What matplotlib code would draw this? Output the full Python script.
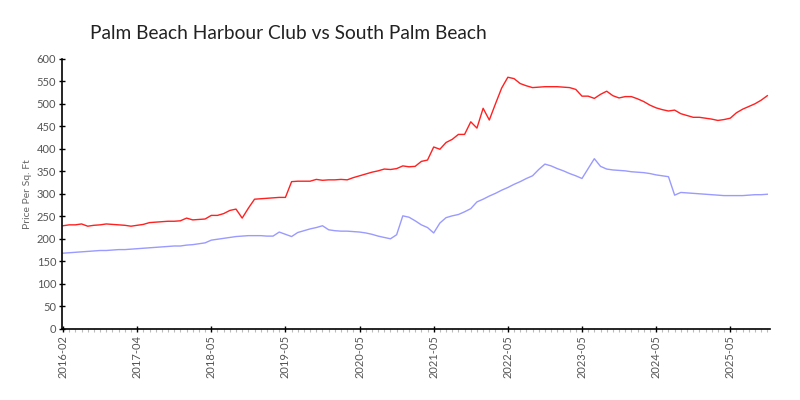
import matplotlib
matplotlib.use("Agg")
import matplotlib.pyplot as plt

# monthly values, one per category on the x axis
harbour_club = [229, 231, 231, 233, 228, 230, 231, 233, 232, 231,
                230, 228, 230, 232, 236, 237, 238, 239, 239, 240,
                246, 242, 243, 244, 252, 252, 256, 263, 266, 246,
                268, 288, 289, 290, 291, 292, 292, 327, 328, 328,
                328, 332, 330, 331, 331, 332, 331, 336, 340, 344,
                348, 351, 355, 354, 356, 362, 360, 361, 372, 375,
                404, 399, 414, 421, 432, 432, 460, 446, 490, 464,
                500, 535, 559, 556, 545, 540, 536, 537, 538, 538,
                538, 537, 536, 532, 517, 517, 512, 521, 528, 518,
                513, 516, 516, 511, 505, 497, 491, 487, 484, 486,
                478, 474, 470, 470, 468, 466, 463, 465, 468, 480,
                488, 494, 500, 508, 518]
south_palm = [168, 169, 170, 171, 172, 173, 174, 174, 175, 176,
              176, 177, 178, 179, 180, 181, 182, 183, 184, 184,
              186, 187, 189, 191, 197, 199, 201, 203, 205, 206,
              207, 207, 207, 206, 206, 215, 210, 205, 214, 218,
              222, 225, 229, 220, 218, 217, 217, 216, 215, 213,
              210, 206, 203, 200, 209, 251, 248, 240, 231, 225,
              213, 235, 247, 251, 254, 260, 267, 282, 288, 295,
              301, 308, 314, 321, 327, 334, 340, 354, 366, 362,
              356, 351, 345, 340, 334, 356, 378, 361, 355, 353,
              352, 351, 349, 348, 347, 345, 342, 340, 338, 297,
              303, 302, 301, 300, 299, 298, 297, 296, 296, 296,
              296, 297, 298, 298, 299]
tick_labels = ["2016-02", "2017-04", "2018-05", "2019-05", "2020-05",
               "2021-05", "2022-05", "2023-05", "2024-05", "2025-05"]

x = list(range(len(harbour_club)))

fig = plt.figure(figsize=(8, 4), dpi=100)
ax = fig.add_axes([0.078, 0.178, 0.885, 0.675])

ax.plot(x, harbour_club, color="#ff2020", linewidth=1)
ax.plot(x, south_palm, color="#9a9aff", linewidth=1)

ax.set_xlim(-0.1, len(x) - 0.5)
ax.set_ylim(0, 600)
ax.set_yticks(range(0, 601, 50))
ax.set_xticks(range(0, len(x), 12))
ax.set_xticklabels(tick_labels, rotation=90)
ax.set_xticks(x, minor=True)

for s in ["top", "right"]:
    ax.spines[s].set_visible(False)
ax.spines["left"].set_linewidth(1.2)
ax.spines["bottom"].set_linewidth(1.2)

ax.tick_params(axis="both", which="major", direction="inout", length=5,
               width=1, labelsize=8, labelcolor="#555555", pad=2)
ax.tick_params(axis="x", which="minor", direction="out", length=2.5,
               width=0.8, color="#bbbbbb")
for lab in ax.get_xticklabels() + ax.get_yticklabels():
    lab.set_family("Lato")

ax.set_ylabel("Price Per Sq. Ft", fontsize=7.5, color="#666666",
              family="Lato", labelpad=3)

fig.text(0.112, 0.917, "Palm Beach Harbour Club vs South Palm Beach",
         fontsize=13.8, family="Lato", color="#222222",
         va="center", ha="left")

fig.savefig("out.png")
